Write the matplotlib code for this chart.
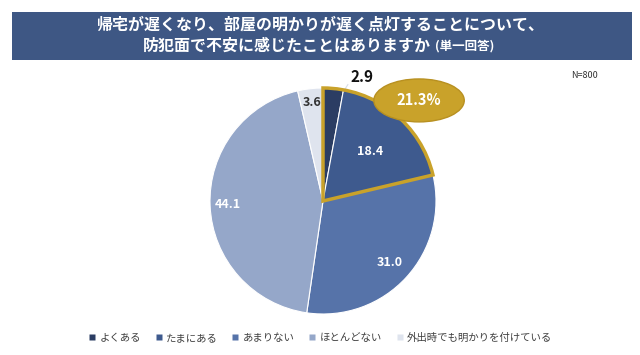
import numpy as np
import matplotlib.pyplot as plt
from matplotlib.patches import Wedge, Ellipse, Rectangle
from matplotlib.lines import Line2D

plt.rcParams['font.family'] = ['Noto Sans CJK JP', 'DejaVu Sans']

# data
labels = ['よくある', 'たまにある', 'あまりない', 'ほとんどない', '外出時でも明かりを付けている']
values = [2.9, 18.4, 31.0, 44.1, 3.6]
colors = ['#2b3d63', '#3e5a8e', '#5673a9', '#95a7c9', '#dfe4ee']
label_colors = ['#111111', 'white', 'white', 'white', '#333333']
label_dist = [1.12, 0.60, 0.80, 0.84, 0.88]
highlight_total = '21.3%'
n_text = 'N=800'
title1 = '帰宅が遅くなり、部屋の明かりが遅く点灯することについて、'
title2 = '防犯面で不安に感じたことはありますか'
title2_small = '(単一回答)'

gold = '#c9a22a'
banner = '#3e5784'

fig = plt.figure(figsize=(6.4, 3.55), dpi=100)
fig.patch.set_facecolor('white')

# title banner
fig.patches.append(Rectangle((12 / 640, 1 - 60 / 355), 620 / 640, 48 / 355,
                             transform=fig.transFigure, facecolor=banner,
                             edgecolor='none', zorder=0))
fig.text(320 / 640, 1 - 25 / 355, title1, ha='center', va='center', color='white',
         fontsize=11.5, fontweight='bold')
fig.text(431 / 640, 1 - 46 / 355, title2, ha='right', va='center', color='white',
         fontsize=11.5, fontweight='bold')
fig.text(435 / 640, 1 - 46 / 355, title2_small, ha='left', va='center', color='white',
         fontsize=9, fontweight='bold')
fig.text(585 / 640, 1 - 75 / 355, n_text, ha='center', va='center', color='#333333',
         fontsize=6.5)

# pie
cx, cy, r = 323, 201, 113
ax = fig.add_axes([(cx - r) / 640, (355 - cy - r) / 355, 2 * r / 640, 2 * r / 355])
wedges, _ = ax.pie(values, colors=colors, startangle=90, counterclock=False,
                   wedgeprops=dict(edgecolor='white', linewidth=0.8))
ax.set_xlim(-1, 1)
ax.set_ylim(-1, 1)
ax.set_aspect('auto')
ax.axis('off')

for i, w in enumerate(wedges):
    mid = np.deg2rad((w.theta1 + w.theta2) / 2)
    d = label_dist[i]
    x, y = d * np.cos(mid), d * np.sin(mid)
    if i == 0:
        x, y = 0.24, 1.10
        edge = np.deg2rad(w.theta1)
        ax.plot([np.cos(edge) * 0.98, x - 0.02], [np.sin(edge) * 0.98, y - 0.07],
                color='#d8dde8', lw=0.8, clip_on=False)
        ax.text(x, y, f'{values[i]:.1f}', ha='left', va='center', fontsize=11,
                fontweight='bold', color=label_colors[i])
    else:
        ax.text(x, y, f'{values[i]:.1f}', ha='center', va='center', fontsize=9,
                fontweight='bold', color=label_colors[i])

# highlight first two slices
t_end = wedges[1].theta1
ax.add_patch(Wedge((0, 0), 1.0, t_end, 90, fill=False, edgecolor=gold,
                   linewidth=2.5, zorder=5, clip_on=False))
ax.add_patch(Ellipse((0.85, 0.89), 0.8, 0.38, facecolor=gold, edgecolor='#b89020',
                     linewidth=1, zorder=6, clip_on=False))
ax.text(0.85, 0.89, highlight_total, ha='center', va='center', color='white',
        fontsize=10.5, fontweight='bold', zorder=7)

# legend
handles = [Line2D([], [], marker='s', linestyle='none', markersize=4,
                  markerfacecolor=c, markeredgecolor='none') for c in colors]
fig.legend(handles, labels, loc='center', bbox_to_anchor=(0.5, 1 - 338 / 355),
           ncol=5, frameon=False, fontsize=7.5, handlelength=0.8, handletextpad=0.3,
           columnspacing=1.3, labelcolor='#404040')

fig.savefig('out.png', dpi=100)
